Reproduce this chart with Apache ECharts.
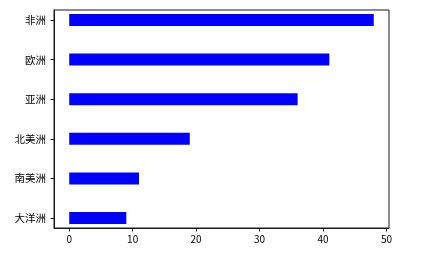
<!DOCTYPE html>
<html>
<head>
<meta charset="utf-8">
<script src="https://cdn.jsdelivr.net/npm/echarts@6/dist/echarts.min.js"></script>
<style>
html,body{margin:0;padding:0;background:#fff;}
#c{width:431px;height:257px;}
</style>
</head>
<body>
<div id="c"></div>
<script>
// Data (bottom to top, as drawn)
var categories = ['大洋洲', '南美洲', '北美洲', '亚洲', '欧洲', '非洲'];
var values = [9, 11, 19, 36, 41, 48];
var xTicks = [0, 10, 20, 30, 40, 50];

var FONT = '"Noto Sans CJK SC", "DejaVu Sans", sans-serif';
var chart = echarts.init(document.getElementById('c'), null, {renderer: 'canvas'});

var option = {
  backgroundColor: '#fff',
  animation: false,
  grid: [
    // frame grid
    {left: 54, right: 42, top: 10, bottom: 29, show: true, borderColor: '#1a1a1a', borderWidth: 1, backgroundColor: 'transparent'},
    // data grid (category bands aligned to the frame's -0.25..5.25 range)
    {left: 54, right: 42, top: 0.1, bottom: 19.1, show: false}
  ],
  xAxis: [
    {
      gridIndex: 0, type: 'value', min: -2.4, max: 50.4, position: 'bottom',
      axisLine: {show: true, onZero: false, lineStyle: {color: '#1a1a1a', width: 1}},
      axisTick: {show: true, length: 3.5, inside: false, customValues: xTicks, lineStyle: {color: '#1a1a1a'}},
      axisLabel: {show: true, customValues: xTicks, color: '#000', fontSize: 10, fontFamily: FONT, margin: 6},
      splitLine: {show: false}
    },
    {
      gridIndex: 1, type: 'value', min: -2.4, max: 50.4, show: false,
      axisLine: {show: false, onZero: false}, splitLine: {show: false}
    }
  ],
  yAxis: [
    {
      gridIndex: 0, type: 'value', min: -0.25, max: 5.25, position: 'left',
      axisLine: {show: true, onZero: false, lineStyle: {color: '#1a1a1a', width: 1}},
      axisTick: {show: false},
      axisLabel: {show: false},
      splitLine: {show: false}
    },
    {
      gridIndex: 1, type: 'category', data: categories, position: 'left',
      axisLine: {show: false, onZero: false},
      axisTick: {show: true, alignWithLabel: true, length: 3.5, lineStyle: {color: '#1a1a1a'}},
      axisLabel: {show: true, color: '#000', fontSize: 10.5, fontFamily: FONT, margin: 8},
      splitLine: {show: false}
    }
  ],
  series: [{
    type: 'bar',
    xAxisIndex: 1, yAxisIndex: 1,
    data: values,
    barWidth: 12,
    itemStyle: {color: '#0000ff'}
  }]
};
chart.setOption(option);
</script>
</body>
</html>
